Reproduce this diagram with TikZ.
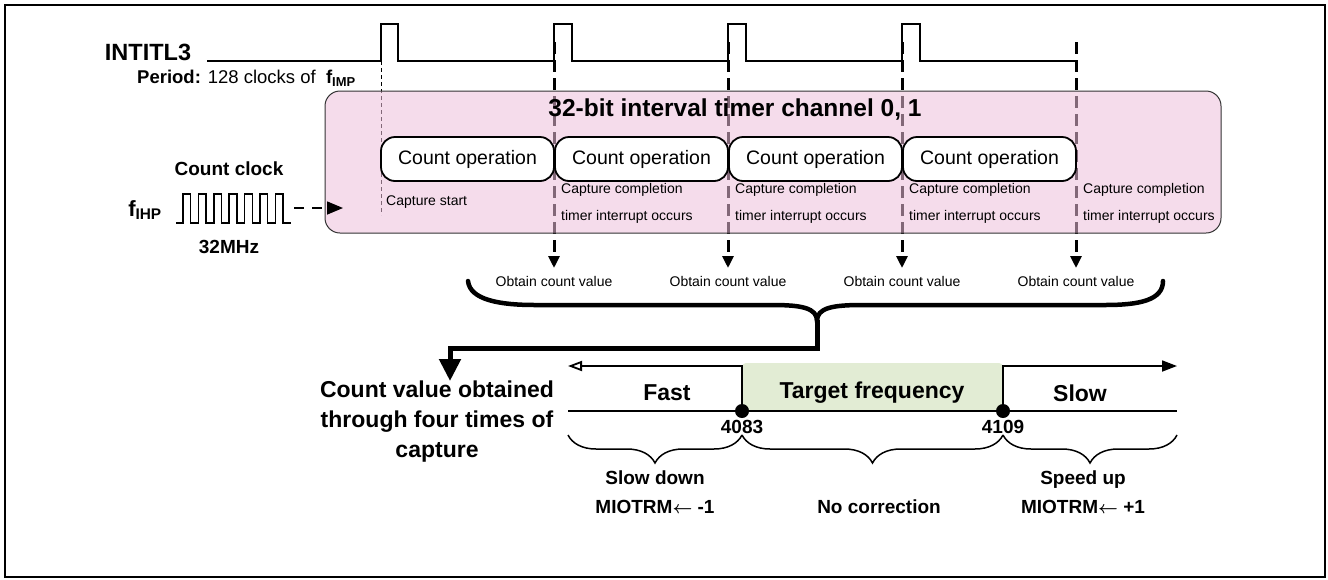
\documentclass[tikz,border=0pt]{standalone}
\usepackage{fontspec}
\setmainfont{Liberation Sans}
\usetikzlibrary{positioning,arrows.meta,decorations.pathreplacing}
\definecolor{timerpink}{RGB}{237,191,219}
\definecolor{targetgreen}{RGB}{226,236,212}
\newcommand{\trmarrow}{{\boldmath$\leftarrow$}}
\tikzset{
  biglbl/.style={font=\fontsize{23}{30}\selectfont\bfseries, inner sep=1pt},
  midlbl/.style={font=\fontsize{19}{29}\selectfont\bfseries, inner sep=1pt},
  smalltxt/.style={font=\fontsize{14}{27}\selectfont, inner sep=1pt},
  opbox/.style={draw, line width=1.8pt, rounded corners=14pt, fill=white, minimum width=173pt, minimum height=44pt, inner sep=0pt, outer sep=0pt, font=\fontsize{19.5}{24}\selectfont},
  capline/.style={line width=3pt, dash pattern=on 12pt off 6pt, -{Triangle[length=12pt,width=11pt]}},
  thinbrace/.style={decorate, decoration={brace, mirror, amplitude=28pt}, line width=1.5pt},
  dotmark/.style={circle, fill=black, inner sep=0pt, minimum size=14pt},
}

\begin{document}
\begin{tikzpicture}[x=1pt, y=-1pt]
\useasboundingbox (0,0) rectangle (1328,579);
\draw[line width=2pt] (5,5) rectangle (1325,577);

%% INTITL3 signal
\node[biglbl, font=\fontsize{23.5}{28}\selectfont\bfseries] (intitl) at (148,52) {INTITL3};
\node[anchor=west, font=\fontsize{18.5}{22}\selectfont, inner sep=1pt] (period) at (136,78) {\textbf{Period:} 128 clocks of \ \textbf{f\textsubscript{IMP}}};
\draw[line width=1.5pt] (207,61) -- (381,61) -- (381,24) -- (398,24) -- (398,61)
  -- (554,61) -- (554,24) -- (572,24) -- (572,61)
  -- (728,61) -- (728,24) -- (746,24) -- (746,61)
  -- (902,61) -- (902,24) -- (920,24) -- (920,61) -- (1077,61);

%capture lines
\coordinate (startTop) at (381,61);
\coordinate (startEnd) at (381,215);
\coordinate (capTopA) at (554,42);
\coordinate (capEndA) at (554,268);
\coordinate (capTopB) at (728,42);
\coordinate (capEndB) at (728,268);
\coordinate (capTopC) at (902,42);
\coordinate (capEndC) at (902,268);
\coordinate (capTopD) at (1076,42);
\coordinate (capEndD) at (1076,268);
\draw[line width=1pt, dash pattern=on 4pt off 3pt] (startTop) -- (startEnd);
\draw[capline] (capTopA) -- (capEndA);
\draw[capline] (capTopB) -- (capEndB);
\draw[capline] (capTopC) -- (capEndC);
\draw[capline] (capTopD) -- (capEndD);

%% timer box
\node[draw=black!80, line width=1pt, rounded corners=15pt, fill=timerpink, fill opacity=0.55, minimum width=896pt, minimum height=142pt] (timerBox) at (773,162) {};
\node[font=\fontsize{24.5}{30}\selectfont\bfseries] (timerTitle) at (735,110) {32-bit interval timer channel 0, 1};
\node[opbox] (opA) at (467.5,159) {Count operation};
\node[opbox, right=1pt of opA] (opB) {Count operation};
\node[opbox, right=1pt of opB] (opC) {Count operation};
\node[opbox, right=1pt of opC] (opD) {Count operation};
\node[smalltxt, anchor=west] (capStart) at (385,202) {Capture start};
\node[smalltxt, anchor=west, align=left] (capDoneA) at (560,203) {Capture completion\\timer interrupt occurs};
\node[smalltxt, anchor=west, align=left] (capDoneB) at (734,203) {Capture completion\\timer interrupt occurs};
\node[smalltxt, anchor=west, align=left] (capDoneC) at (908,203) {Capture completion\\timer interrupt occurs};
\node[smalltxt, anchor=west, align=left] (capDoneD) at (1082,203) {Capture completion\\timer interrupt occurs};

%% count clock
\node[midlbl] (clkTitle) at (229,169) {Count clock};
\node[font=\fontsize{22}{26}\selectfont\bfseries, inner sep=1pt] (fihp) at (145,210) {f\textsubscript{IHP}};
\node[midlbl] (clkFreq) at (229,247) {32MHz};
\draw[line width=1.5pt] (176,223) -- (183,223)
  \foreach \k in {1,...,7} { -- ++(0,-29) -- ++(7.7,0) -- ++(0,29) -- ++(7.7,0)};
\coordinate (clkOut) at (294,208);
\coordinate (clkIn) at (343,208);
\draw[line width=1.5pt, dash pattern=on 10pt off 8pt, -{Triangle[length=16pt,width=13pt]}] (clkOut) -- (clkIn);

%the obtain labels
\node[smalltxt, below=7pt of capEndA] (obtainA) {Obtain count value};
\node[smalltxt, below=7pt of capEndB] (obtainB) {Obtain count value};
\node[smalltxt, below=7pt of capEndC] (obtainC) {Obtain count value};
\node[smalltxt, below=7pt of capEndD] (obtainD) {Obtain count value};

%big brace and result arrow
\draw[line width=4.5pt, line cap=round] (468,281) .. controls (470,300) and (500,305) .. (535,305)
  -- (772,305) .. controls (802,305) and (817,308) .. (817,321)
  .. controls (817,308) and (832,305) .. (862,305)
  -- (1105,305) .. controls (1140,305) and (1163,300) .. (1163,281);
\coordinate (braceTip) at (817,320);
\coordinate (noteIn) at (450,381);
\draw[line width=5pt, -{Triangle[length=22pt,width=21pt]}] (braceTip) -- ++(0,28) -| (noteIn);
\node[biglbl, align=center] (countNote) at (437,422) {Count value obtained\\through four times of\\capture};

%% frequency range
\fill[targetgreen, rounded corners=4pt] (742,363) rectangle (1003,411);
\coordinate (lineL) at (568,411);
\coordinate (lineR) at (1177,411);
\coordinate (fastEnd) at (568,366);
\coordinate (slowEnd) at (1177,366);
\draw[line width=1.8pt] (lineL) -- (lineR);
\node[dotmark] (dotLow) at (742,411) {};
\node[dotmark] (dotHigh) at (1003,411) {};
\draw[line width=1.8pt, -{Triangle[open,length=14pt,width=10pt]}] (dotLow) |- (fastEnd);
\draw[line width=1.8pt, -{Triangle[length=15pt,width=11pt]}] (dotHigh) |- (slowEnd);
\node[biglbl] (fastLbl) at (667,393) {Fast};
\node[biglbl] (targetLbl) at (872,393) {Target frequency};
\node[biglbl] (slowLbl) at (1080,393) {Slow};
\node[midlbl] (numLow) at (742,427) {4083};
\node[midlbl] (numHigh) at (1003,427) {4109};

%drawings of braces
\draw[thinbrace] (568,435) -- (742,435);
\draw[thinbrace] (742,435) -- (1003,435);
\draw[thinbrace] (1003,435) -- (1177,435);
\node[midlbl, align=center] (slowDown) at (655,492) {Slow down\\MIOTRM\trmarrow\ -1};
\node[midlbl] (noCorr) at (879,507) {No correction};
\node[midlbl, align=center] (speedUp) at (1083,492) {Speed up\\MIOTRM\trmarrow\ +1};
\end{tikzpicture}
\end{document}
